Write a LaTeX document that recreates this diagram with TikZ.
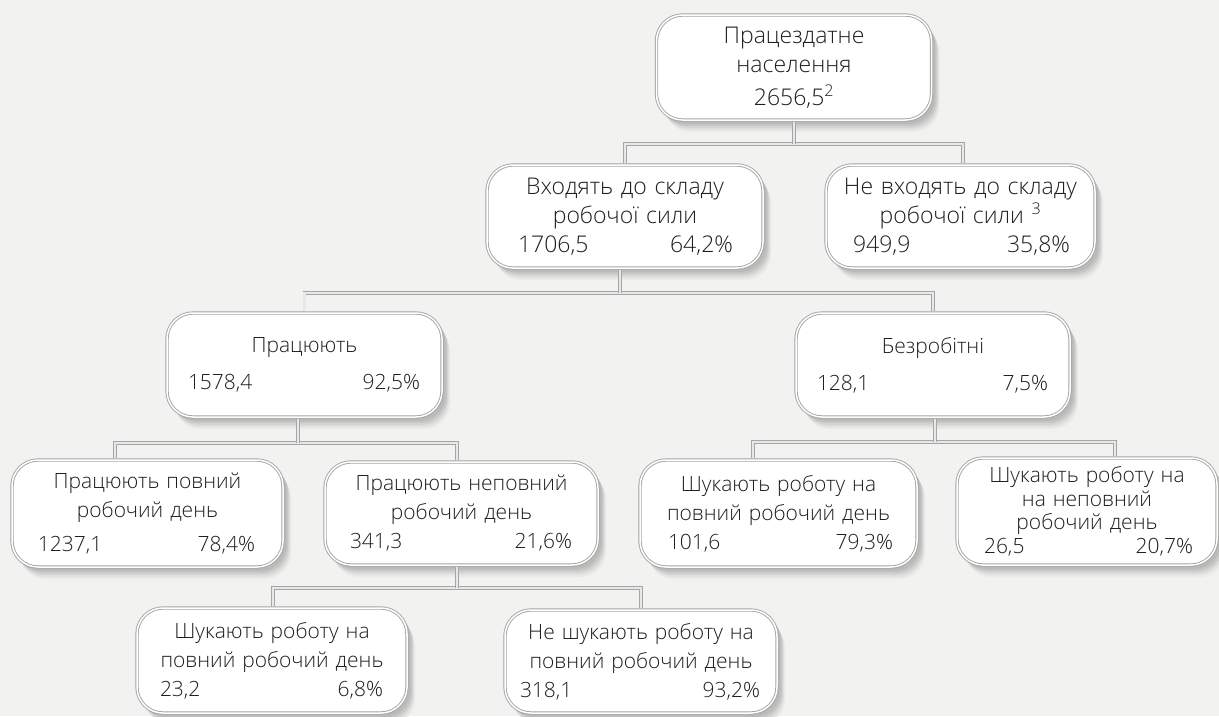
\documentclass[tikz,border=0pt]{standalone}
\usepackage{fontspec}
\IfFontExistsTF{Open Sans Light}{\setmainfont{Open Sans Light}}{\setmainfont{Open Sans}}
\usetikzlibrary{calc,shadows}
\definecolor{bgc}{RGB}{242,242,241}
\definecolor{edge}{RGB}{165,165,165}
\definecolor{linein}{RGB}{232,232,232}
\definecolor{txt}{RGB}{30,30,30}
\definecolor{sha}{RGB}{234,234,233}
\definecolor{shb}{RGB}{224,224,223}
\definecolor{shc}{RGB}{212,212,211}
\definecolor{shd}{RGB}{198,198,197}
\definecolor{she}{RGB}{186,186,185}
\tikzset{
  box/.style={rounded corners=26pt, draw=edge, line width=0.9pt, double=white,
    double distance=1.5pt, fill=white, inner sep=0pt, align=center, text=txt,
    general shadow={fill=sha, draw=none, shadow xshift=8pt, shadow yshift=-12pt},
    general shadow={fill=shb, draw=none, shadow xshift=7pt, shadow yshift=-10pt},
    general shadow={fill=shc, draw=none, shadow xshift=6pt, shadow yshift=-8pt},
    general shadow={fill=shd, draw=none, shadow xshift=5pt, shadow yshift=-6pt},
    general shadow={fill=she, draw=none, shadow xshift=3.5pt, shadow yshift=-4pt}},
  bigf/.style={font=\fontsize{23}{29}\selectfont},
  smallf/.style={font=\fontsize{21}{29}\selectfont},
  tightf/.style={font=\fontsize{21}{23.5}\selectfont},
  conn/.style={draw=edge, line width=0.8pt, double=linein, double distance=2.2pt}
}
\newcommand\nums[4]{\hspace*{#1pt}#3\hfill #4\hspace*{#2pt}}
% name, x, y, w, h, options, text
\newcommand\bx[7]{%
  \node[box,minimum width=#4pt,minimum height=#5pt,#6] (#1) at (#2,#3) {#7};}
\begin{document}
\begin{tikzpicture}[x=1pt,y=-1pt]
\fill[bgc] (0,0) rectangle (1219,716);
\useasboundingbox (0,0) rectangle (1219,716);

\bx{b1}{794}{67.5}{275}{105}{bigf,text width=263pt}
  {Працездатне\\населення\\[4pt]2656,5\textsuperscript{2}}
\bx{b2}{625}{216.5}{276}{103}{bigf,text width=264pt}
  {Входять до складу\\робочої сили\\\nums{25}{24}{1706,5}{64,2\%}}
\bx{b3}{960.5}{216.5}{269}{103}{bigf,text width=257pt}
  {Не входять до складу\\робочої сили \textsuperscript{3}\\\nums{21}{19}{949,9}{35,8\%}}
\bx{b4}{304.5}{365}{275}{104}{smallf,text width=263pt}
  {Працюють\\[8pt]\nums{15}{16}{1578,4}{92,5\%}}
\bx{b5}{933}{365}{274}{104}{smallf,text width=262pt}
  {Безробітні\\[8pt]\nums{15}{16}{128,1}{7,5\%}}
\bx{b6}{147.5}{513.5}{271}{107}{smallf,text width=259pt}
  {Працюють повний\\робочий день\\[5pt]\nums{20}{22}{1237,1}{78,4\%}}
\bx{b7}{461.5}{513.5}{273}{103}{smallf,text width=261pt}
  {Працюють неповний\\робочий день\\\nums{19}{20}{341,3}{21,6\%}}
\bx{b8}{778.5}{513.5}{277}{107}{smallf,text width=265pt}
  {Шукають роботу на\\повний робочий день\\\nums{22}{18}{101,6}{79,3\%}}
\bx{b9}{1087}{511.5}{260}{107}{tightf,text width=248pt}
  {Шукають роботу на\\на неповний\\робочий день\\\nums{21}{18}{26,5}{20,7\%}}
\bx{b10}{272}{660.5}{270}{105}{smallf,text width=260pt}
  {Шукають роботу на\\повний робочий день\\\nums{18}{19}{23,2}{6,8\%}}
\bx{b11}{641}{661.5}{272}{103}{smallf,text width=262pt}
  {Не шукають роботу на\\повний робочий день\\\nums{10}{12}{318,1}{93,2\%}}

\coordinate (y1) at (0,144);
\coordinate (y2) at (0,293);
\coordinate (y3) at (0,443);
\coordinate (y4) at (0,442);
\coordinate (y5) at (0,588);

\coordinate (s1) at (b1.south);
\coordinate (n2) at (b2.north);
\coordinate (n3) at ($(b3.north)+(2.5,0)$);
\coordinate (s2) at ($(b2.south)+(-5,0)$);
\coordinate (n4) at (b4.north);
\coordinate (n5) at (b5.north);
\coordinate (s4) at ($(b4.south)+(-6.5,0)$);
\coordinate (n6) at ($(b6.north)+(-32.5,0)$);
\coordinate (n7) at ($(b7.north)+(-4.5,0)$);
\coordinate (s5) at ($(b5.south)+(2,0)$);
\coordinate (n8) at ($(b8.north)+(-25.5,0)$);
\coordinate (n9) at ($(b9.north)+(28,0)$);
\coordinate (s7) at ($(b7.south)+(-4.5,0)$);
\coordinate (n10) at ($(b10.north)+(1,0)$);
\coordinate (n11) at (b11.north);

\draw[conn,shorten <=1.8pt,shorten >=1.8pt] (n2) -- (n2 |- y1) -- (n3 |- y1) -- (n3);
\draw[conn,shorten <=1.8pt] (s1) -- (s1 |- y1);
\draw[conn,shorten <=1.8pt,shorten >=1.8pt] (n4) -- (n4 |- y2) -- (n5 |- y2) -- (n5);
\draw[conn,shorten <=1.8pt] (s2) -- (s2 |- y2);
\draw[conn,shorten <=1.8pt,shorten >=1.8pt] (n6) -- (n6 |- y3) -- (n7 |- y3) -- (n7);
\draw[conn,shorten <=1.8pt] (s4) -- (s4 |- y3);
\draw[conn,shorten <=1.8pt,shorten >=1.8pt] (n8) -- (n8 |- y4) -- (n9 |- y4) -- (n9);
\draw[conn,shorten <=1.8pt] (s5) -- (s5 |- y4);
\draw[conn,shorten <=1.8pt,shorten >=1.8pt] (n10) -- (n10 |- y5) -- (n11 |- y5) -- (n11);
\draw[conn,shorten <=1.8pt] (s7) -- (s7 |- y5);
\end{tikzpicture}
\end{document}
